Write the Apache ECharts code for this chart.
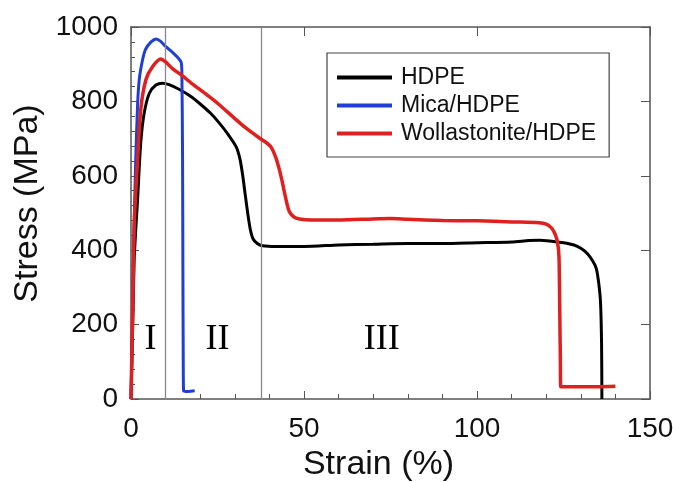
<!DOCTYPE html>
<html>
<head>
<meta charset="utf-8">
<title>Stress-strain curves</title>
<script src="https://cdn.jsdelivr.net/npm/echarts@6/dist/echarts.min.js"></script>
<style>
  html, body { margin: 0; padding: 0; background: #fff; }
  #chart { width: 673px; height: 482px; }
</style>
</head>
<body>
<div id="chart"></div>
<script>
// Stress-strain curves for neat HDPE and two filled composites

const seriesNames = ['HDPE', 'Mica/HDPE', 'Wollastonite/HDPE'];

const hdpeStrain = [0, 0.5, 0.9, 1.4, 1.9, 2.8, 3.8, 5.3, 7.2, 9.1, 11, 14, 17, 20, 23, 25.6, 28, 30.4, 31.5, 32.3, 33, 33.8, 34.5, 35.3, 36.5, 38, 42, 50, 60, 70, 80, 90, 100, 110, 115, 118, 121, 125, 128, 130, 132, 133.5, 134.5, 135.2, 135.7, 136, 136.1];
const hdpeStress = [0, 200, 370, 460, 535, 687, 768, 822, 844, 849, 845, 832, 815, 793, 768, 741, 712, 678, 645, 600, 550, 495, 455, 430, 418, 412, 410, 410, 414, 416, 418, 418, 420, 422, 426, 427, 425, 420, 414, 405, 390, 370, 350, 310, 260, 150, 0];

const micaStrain = [0, 0.4, 0.8, 1.3, 1.9, 2.4, 3.3, 4.2, 5.8, 7.3, 8.5, 10, 12, 13.5, 14.5, 14.7, 14.9, 15.0, 15.1, 15.2, 16.5, 18.4];
const micaStress = [0, 200, 420, 620, 790, 860, 910, 940, 960, 968, 962, 948, 932, 918, 905, 880, 650, 350, 100, 22, 20, 22];

const wollStrain = [0, 0.3, 0.6, 0.9, 1.4, 1.9, 2.8, 4.3, 6.2, 8.6, 10, 12, 14.5, 18, 21.3, 25, 29.4, 33, 37.2, 39, 40.5, 41.8, 42.9, 43.8, 44.4, 45.2, 45.8, 47, 48.7, 52, 56.4, 60, 70, 75, 80, 90, 100, 110, 118, 120, 121.5, 122.5, 123.3, 123.7, 123.9, 124.1, 124.2, 130, 135, 140];
const wollStress = [0, 150, 300, 463, 560, 642, 777, 858, 893, 914, 906, 888, 871, 845, 822, 795, 759, 730, 701, 690, 677, 650, 616, 580, 553, 520, 503, 490, 484, 481, 481, 481, 484, 485, 483, 480, 479, 476, 474, 470, 460, 445, 420, 380, 250, 100, 33, 33, 33, 34];

// deformation stages and the strains that separate them
const stageLabels = ['I', 'II', 'III'];
const stageStrain = [5.6, 25, 72.5];
const stageStress = [160, 160, 160];
const stageBounds = [10, 37.5];

const xTicks = [0, 50, 100, 150];
const yTicks = [0, 200, 400, 600, 800, 1000];

const colors = ['#000000', '#1f3fd2', '#e0201f'];
const lineWidths = [3, 3, 3.5];

function pairs(xs, ys) {
  return xs.map((x, i) => [x, ys[i]]);
}

const curves = [pairs(hdpeStrain, hdpeStress), pairs(micaStrain, micaStress), pairs(wollStrain, wollStress)];

const sans = 'Liberation Sans, Arial, sans-serif';
const frameColor = '#555';

const chart = echarts.init(document.getElementById('chart'), null, { renderer: 'canvas' });

const xBase = {
  type: 'value',
  min: xTicks[0],
  max: xTicks[xTicks.length - 1],
  interval: xTicks[1] - xTicks[0],
  splitLine: { show: false },
  axisLine: { show: true, onZero: false, lineStyle: { color: frameColor, width: 1.5 } }
};
const yBase = {
  type: 'value',
  min: yTicks[0],
  max: yTicks[yTicks.length - 1],
  interval: yTicks[1] - yTicks[0],
  splitLine: { show: false },
  axisLine: { show: true, onZero: false, lineStyle: { color: frameColor, width: 1.5 } }
};

chart.setOption({
  animation: false,
  backgroundColor: '#fff',
  grid: { left: 131, top: 27, width: 519, height: 372, containLabel: false, outerBoundsMode: 'none' },
  legend: {
    data: seriesNames,
    orient: 'vertical',
    left: 327,
    top: 53,
    icon: 'rect',
    itemWidth: 55,
    itemHeight: 4,
    itemGap: 5,
    padding: [13, 13, 12, 10],
    borderColor: '#444',
    borderWidth: 1.2,
    textStyle: { fontFamily: sans, fontSize: 23, lineHeight: 23, color: '#111', padding: [0, 0, 0, 4] }
  },
  xAxis: [
    Object.assign({}, xBase, {
      position: 'bottom',
      name: 'Strain (%)',
      nameLocation: 'middle',
      nameGap: 42,
      nameTextStyle: { fontFamily: sans, fontSize: 34, color: '#111', padding: [0, 24, 0, 0] },
      axisTick: { show: true, inside: true, length: 8, lineStyle: { color: frameColor } },
      minorTick: { show: true, splitNumber: 5, length: 5, lineStyle: { color: frameColor } },
      axisLabel: { fontFamily: sans, fontSize: 28, color: '#111', margin: 16, formatter: v => String(v) }
    }),
    Object.assign({}, xBase, {
      position: 'top',
      axisTick: { show: true, inside: true, length: 9, lineStyle: { color: frameColor } },
      axisLabel: { show: false }
    })
  ],
  yAxis: [
    Object.assign({}, yBase, {
      position: 'left',
      name: 'Stress (MPa)',
      nameLocation: 'middle',
      nameGap: 84,
      nameRotate: 90,
      nameTextStyle: { fontFamily: sans, fontSize: 34, color: '#111', padding: [0, 0, 0, 19] },
      axisTick: { show: true, inside: true, length: 8, lineStyle: { color: frameColor } },
      minorTick: { show: true, splitNumber: 5, length: 4, lineStyle: { color: frameColor } },
      axisLabel: { fontFamily: sans, fontSize: 28, color: '#111', margin: 13, formatter: v => String(v) }
    }),
    Object.assign({}, yBase, {
      position: 'right',
      axisTick: { show: true, inside: true, length: 9, lineStyle: { color: frameColor } },
      axisLabel: { show: false }
    })
  ],
  series: [
    {
      name: 'stages',
      type: 'scatter',
      z: 1,
      silent: true,
      symbolSize: 0,
      data: stageLabels.map((t, i) => ({ value: [stageStrain[i], stageStress[i]], name: t })),
      label: {
        show: true,
        position: 'inside',
        formatter: p => p.name,
        fontFamily: 'Liberation Serif, Times New Roman, serif',
        fontSize: 36,
        color: '#000',
        textBorderWidth: 0,
        opacity: 1
      },
      markLine: {
        silent: true,
        symbol: 'none',
        label: { show: false },
        lineStyle: { color: '#8a8a8a', width: 1.3, type: 'solid' },
        data: stageBounds.map(b => ({ xAxis: b }))
      }
    }
  ].concat(seriesNames.map((name, i) => ({
    name: name,
    type: 'line',
    z: 3 + i,
    data: curves[i],
    showSymbol: false,
    symbol: 'none',
    smooth: 0.25,
    lineStyle: { color: colors[i], width: lineWidths[i] },
    itemStyle: { color: colors[i] }
  })))
});
</script>
</body>
</html>
